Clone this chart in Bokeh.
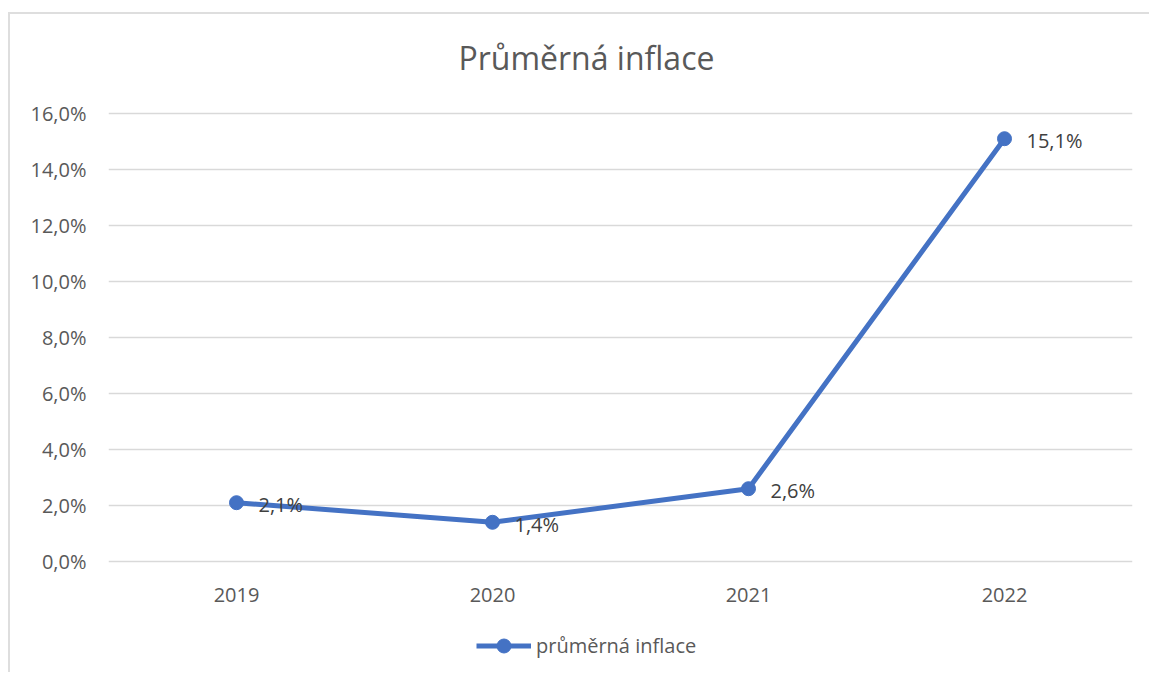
from bokeh.plotting import figure
from bokeh.models import (ColumnDataSource, FactorRange, Range1d, FixedTicker,
                          CustomJSTickFormatter, Legend, LegendItem, Label)
from bokeh.core.properties import value
from bokeh.embed import file_html
from bokeh.resources import INLINE

years = ["2019", "2020", "2021", "2022"]
inflation = [2.1, 1.4, 2.6, 15.1]
labels = [f"{v:.1f}%".replace(".", ",") for v in inflation]
y_ticks = [0, 2, 4, 6, 8, 10, 12, 14, 16]
title_text = "Průměrná inflace"
series_name = "průměrná inflace"

FONT = "Open Sans"
BLUE = "#4472C4"
GRID = "#d9d9d9"
AXIS_TXT = "#595959"
LBL_TXT = "#404040"

src = ColumnDataSource(dict(x=years, y=inflation, label=labels))
cat_src = ColumnDataSource(dict(x=years, y=[y_ticks[0]] * len(years), label=years))

p = figure(width=1141, height=660, output_backend="svg", toolbar_location=None,
           x_range=FactorRange(*years, range_padding=0), y_range=Range1d(-4, 19.5),
           x_axis_location=None,
           min_border_left=98, min_border_right=19, min_border_top=1, min_border_bottom=1)
p.margin = (12, 0, 0, 8)
p.styles = {"border-left": "2px solid #dedede", "border-top": "2px solid #dedede"}

p.outline_line_color = None
p.background_fill_color = "white"
p.border_fill_color = "white"

p.xgrid.grid_line_color = None
p.ygrid.grid_line_color = GRID
p.ygrid.grid_line_width = 1.5
p.ygrid.ticker = FixedTicker(ticks=y_ticks)
p.yaxis.ticker = FixedTicker(ticks=y_ticks)
p.yaxis.formatter = CustomJSTickFormatter(code="return tick.toFixed(1).replace('.', ',') + '%';")

ax = p.yaxis
ax.axis_line_color = None
ax.major_tick_line_color = None
ax.minor_tick_line_color = None
ax.major_tick_out = 0
ax.major_tick_in = 0
ax.minor_tick_out = 0
ax.major_label_text_font = FONT
ax.major_label_text_font_size = "20px"
ax.major_label_text_color = AXIS_TXT
ax.major_label_standoff = 22

# chart title (centred on the chart area, above the plot)
p.add_layout(Label(x=1.867, y=18.0, text=title_text, text_font=FONT, text_font_size="32px",
                   text_color=AXIS_TXT, text_align="center", text_baseline="middle"))

# category (year) labels under the zero line
p.text("x", "y", text="label", source=cat_src, y_offset=33,
       text_font=value(FONT), text_font_size="20px", text_color=AXIS_TXT,
       text_align="center", text_baseline="middle")

ln = p.line("x", "y", source=src, line_color=BLUE, line_width=5)
pts = p.scatter("x", "y", source=src, size=14, fill_color=BLUE, line_color=BLUE)

p.text("x", "y", text="label", source=src, x_offset=22, y_offset=2,
       text_font=value(FONT), text_font_size="20px", text_color=LBL_TXT,
       text_align="left", text_baseline="middle")

legend = Legend(items=[LegendItem(label=series_name, renderers=[ln, pts])],
                location=(368, 10), orientation="horizontal",
                glyph_width=55, glyph_height=35, label_standoff=5, padding=0, margin=0,
                border_line_color=None, background_fill_alpha=0,
                label_text_font=FONT, label_text_font_size="20px", label_text_color=AXIS_TXT)
p.add_layout(legend, "center")

open("out.html", "w").write(file_html(p, INLINE))
